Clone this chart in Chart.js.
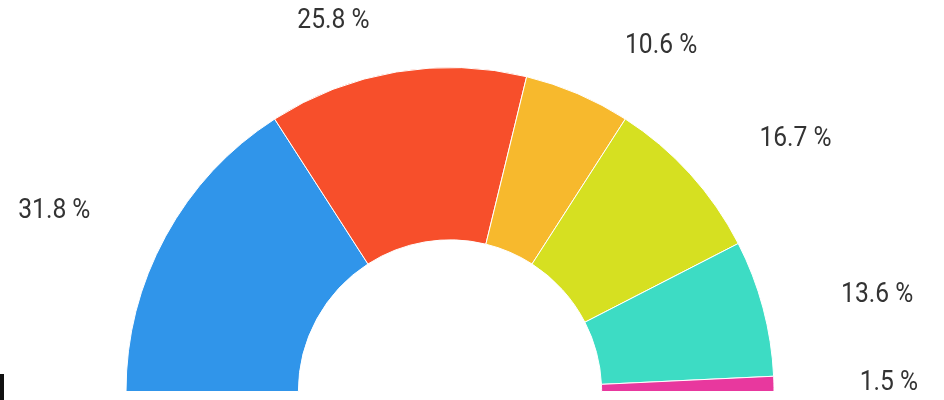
<!DOCTYPE html>
<html>
<head>
<meta charset="utf-8">
<script src="https://cdn.jsdelivr.net/npm/chart.js@4"></script>
<style>
  html,body{margin:0;padding:0;background:#fff;}
  #wrap{position:relative;width:944px;height:400px;}
  #mark{position:absolute;left:0;top:374px;width:4px;height:26px;background:#111;}
</style>
</head>
<body>
<div id="wrap">
  <canvas id="c" width="944" height="400"></canvas>
  <div id="mark"></div>
</div>
<script>
const categories = ["A", "B", "C", "D", "E", "F"];
const values = [31.8, 25.8, 10.6, 16.7, 13.6, 1.5];
const colors = ["#3095ea", "#f74f2b", "#f7b92d", "#d6e021", "#3ddcc4", "#e8389e"];

const labelPlugin = {
  id: 'outerLabels',
  afterDatasetsDraw(chart) {
    const ctx = chart.ctx;
    const meta = chart.getDatasetMeta(0);
    const total = values.reduce((a, b) => a + b, 0);
    ctx.save();
    ctx.fillStyle = '#333333';
    ctx.font = '28px Roboto';
    ctx.textAlign = 'center';
    ctx.textBaseline = 'middle';
    meta.data.forEach((arc, i) => {
      const p = arc.getProps(['x', 'y', 'startAngle', 'endAngle', 'outerRadius'], true);
      const mid = (p.startAngle + p.endAngle) / 2;
      const c = Math.cos(mid), s = Math.sin(mid);
      const R = p.outerRadius;
      const lx = p.x + 1.355 * R * c + 45 * Math.sign(c) * s * s;
      const ly = p.y + 1.16 * R * s;
      const txt = (values[i] / total * 100).toFixed(1) + ' %';
      ctx.save();
      ctx.translate(lx, ly);
      ctx.scale(0.88, 1);
      ctx.fillText(txt, 0, 0);
      ctx.restore();
    });
    ctx.restore();
  }
};

new Chart(document.getElementById('c'), {
  type: 'doughnut',
  data: {
    labels: categories,
    datasets: [{
      data: values,
      backgroundColor: colors,
      borderColor: '#ffffff',
      borderWidth: 1
    }]
  },
  options: {
    responsive: false,
    animation: false,
    rotation: -90,
    circumference: 180,
    cutout: '46.8%',
    layout: { padding: { left: 125, right: 169, top: 67, bottom: 8 } },
    plugins: {
      legend: { display: false },
      tooltip: { enabled: false }
    }
  },
  plugins: [labelPlugin]
});
</script>
</body>
</html>
